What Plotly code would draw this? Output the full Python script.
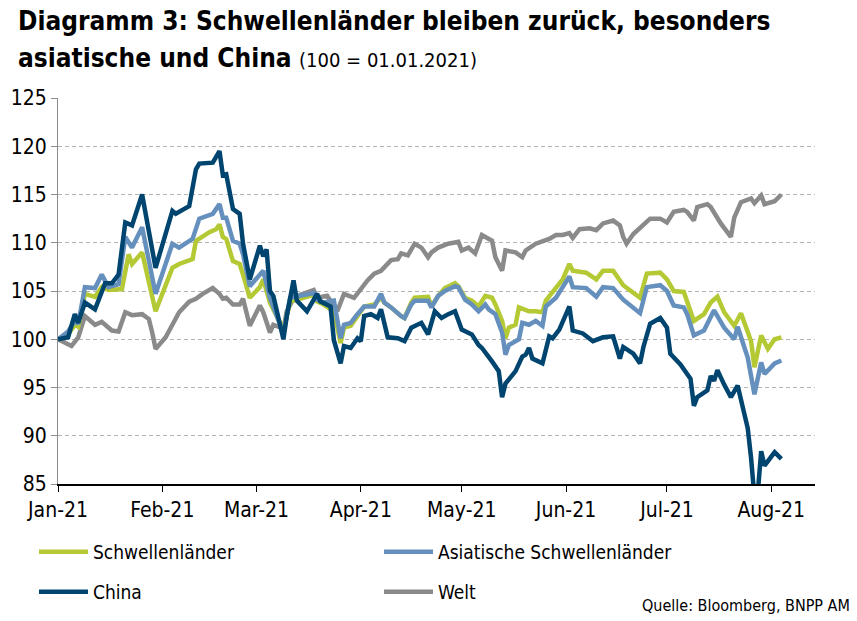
import pandas as pd
import plotly.graph_objects as go

FONT = "Liberation Sans Narrow, Arial Narrow, DejaVu Sans Condensed, sans-serif"
START = pd.Timestamp("2021-01-01")

# days since 01.01.2021 and index values (100 = 01.01.2021)
em_days = [0, 3, 5, 6, 8, 11, 13, 15, 19, 21, 22, 25, 29, 34, 36, 40, 41, 45, 47, 48,
           49, 50, 52, 54, 55, 57, 60, 61, 63, 67, 69, 72, 74, 76, 77, 79, 82, 84, 85, 87,
           89, 91, 94, 96, 97, 99, 102, 103, 105, 106, 110, 111, 113, 115, 118, 119, 121, 123, 125, 127,
           129, 130, 132, 133, 134, 136, 137, 140, 142, 144, 145, 148, 150, 152, 153, 157, 160, 162, 165, 168,
           173, 175, 179, 181, 183, 186, 187, 189, 192, 194, 196, 198, 201, 203, 206, 207, 209, 211, 213, 215]
em_vals = [100.0, 100.5, 101.5, 101.3, 104.7, 104.4, 105.4, 105.1, 105.2, 108.8, 107.8, 109.0, 102.9, 107.4, 107.8, 108.3, 110.2, 111.1, 111.4, 111.9,
           110.6, 110.4, 108.1, 107.8, 106.7, 104.3, 105.4, 106.2, 103.8, 101.0, 103.9, 104.2, 104.5, 104.6, 103.9, 103.6, 102.9, 99.6, 101.2, 101.4,
           102.4, 103.4, 103.6, 104.3, 103.8, 103.3, 102.4, 102.2, 103.8, 104.3, 104.4, 103.4, 104.5, 105.3, 105.8, 105.5, 104.3, 104.0, 103.4, 104.5,
           104.3, 103.6, 101.9, 100.1, 101.2, 101.5, 103.3, 102.9, 102.9, 102.8, 104.0, 105.4, 106.2, 107.8, 107.1, 106.9, 106.2, 107.1, 107.1, 105.6,
           104.3, 106.8, 106.9, 106.2, 105.0, 104.9, 103.8, 101.9, 102.6, 103.8, 104.4, 102.8, 101.4, 102.7, 99.8, 97.1, 100.4, 99.0, 100.0, 100.2]

asia_days = [0, 3, 5, 6, 8, 11, 13, 15, 18, 20, 22, 25, 29, 34, 36, 40, 42, 46, 48, 49,
             50, 52, 54, 55, 57, 60, 61, 63, 67, 69, 72, 74, 76, 77, 79, 82, 84, 85, 87, 89,
             91, 94, 96, 97, 99, 102, 103, 105, 106, 110, 111, 113, 115, 118, 119, 121, 123, 125, 127, 128,
             130, 132, 133, 134, 137, 138, 140, 142, 144, 145, 148, 150, 152, 153, 157, 160, 162, 165, 168, 173,
             175, 179, 181, 183, 186, 187, 189, 192, 194, 195, 198, 201, 202, 205, 207, 209, 210, 213, 215]
asia_vals = [100.0, 100.8, 101.9, 101.6, 105.4, 105.3, 106.7, 105.4, 105.7, 110.6, 109.5, 111.6, 104.7, 109.9, 109.5, 110.4, 112.5, 113.0, 114.0, 112.6,
             112.6, 110.2, 109.9, 108.8, 105.5, 106.7, 107.1, 104.3, 100.6, 104.3, 104.5, 104.7, 104.8, 104.1, 103.8, 104.0, 100.1, 101.5, 101.7, 102.6,
             103.4, 103.4, 104.7, 103.8, 103.3, 102.4, 102.2, 103.6, 104.0, 104.0, 103.3, 104.5, 105.0, 105.5, 105.4, 104.1, 103.6, 102.9, 103.6, 103.1,
             102.6, 100.7, 98.4, 99.4, 100.0, 101.7, 101.5, 101.9, 101.4, 103.4, 104.3, 105.4, 106.5, 105.4, 105.3, 104.4, 105.4, 105.3, 104.1, 102.7,
             105.4, 105.6, 105.0, 103.5, 103.3, 102.6, 100.4, 100.9, 102.3, 103.0, 101.2, 100.0, 101.3, 98.1, 94.3, 97.6, 96.4, 97.5, 97.8]

china_days = [0, 3, 5, 6, 8, 11, 14, 16, 18, 20, 22, 25, 29, 34, 35, 39, 41, 42, 46, 48,
              49, 50, 52, 54, 55, 57, 60, 61, 62, 63, 64, 67, 68, 70, 71, 74, 77, 78, 81, 82,
              84, 85, 87, 89, 90, 91, 93, 95, 96, 97, 98, 101, 103, 104, 105, 108, 110, 112, 114, 116,
              118, 120, 123, 125, 126, 129, 131, 132, 133, 136, 138, 139, 140, 141, 144, 146, 147, 149, 152, 153,
              156, 159, 162, 165, 167, 168, 171, 173, 174, 176, 179, 181, 182, 185, 188, 189, 190, 193, 194, 195,
              196, 198, 200, 202, 205, 206, 207, 208, 209, 210, 213, 215]
china_vals = [100.0, 100.2, 102.6, 101.7, 103.8, 103.1, 105.8, 105.8, 106.7, 112.1, 111.8, 115.0, 107.4, 113.3, 113.0, 113.8, 117.6, 118.2, 118.3, 119.5,
              117.0, 117.1, 113.5, 113.0, 109.9, 106.2, 109.7, 108.6, 109.3, 105.0, 104.5, 100.0, 102.4, 106.1, 104.0, 102.9, 104.7, 103.9, 103.4, 99.9,
              97.5, 99.3, 99.1, 100.1, 99.8, 102.4, 102.6, 102.2, 103.1, 101.4, 100.2, 100.1, 99.8, 100.5, 101.2, 101.7, 100.5, 102.9, 102.2, 102.6,
              102.9, 101.0, 100.5, 99.4, 99.1, 97.7, 96.7, 94.0, 95.4, 96.7, 98.2, 98.4, 99.1, 98.0, 97.5, 100.3, 100.1, 101.0, 103.4, 100.9,
              100.6, 99.8, 100.2, 100.3, 98.0, 99.2, 98.5, 97.5, 99.2, 101.6, 102.2, 101.2, 98.5, 97.4, 95.9, 93.1, 94.0, 94.7, 96.2, 95.7,
              96.8, 95.3, 94.0, 95.2, 90.8, 87.7, 83.6, 84.1, 88.4, 86.9, 88.3, 87.6]

world_days = [0, 4, 6, 8, 11, 13, 16, 18, 20, 22, 25, 27, 28, 29, 32, 34, 36, 39, 41, 43,
              46, 48, 49, 50, 52, 54, 55, 57, 60, 61, 63, 64, 66, 67, 68, 70, 72, 74, 76, 77,
              80, 83, 85, 88, 90, 92, 94, 96, 99, 101, 102, 104, 106, 108, 110, 111, 113, 116, 119, 120,
              122, 124, 126, 129, 130, 132, 133, 136, 138, 139, 142, 144, 146, 148, 150, 152, 153, 155, 158, 160,
              162, 165, 167, 168, 169, 171, 174, 176, 179, 181, 183, 186, 187, 189, 190, 193, 194, 197, 200, 201,
              203, 206, 207, 209, 210, 213, 215]
world_vals = [100.0, 99.3, 100.2, 102.4, 101.5, 101.8, 100.9, 100.8, 102.8, 102.5, 102.6, 102.1, 100.7, 99.0, 100.2, 101.6, 102.8, 103.9, 104.2, 104.7,
              105.3, 104.7, 104.2, 104.3, 103.6, 103.6, 104.2, 101.4, 103.5, 102.8, 100.7, 101.5, 101.2, 101.1, 102.9, 104.2, 104.6, 104.8, 105.1, 104.3,
              104.5, 102.9, 104.7, 104.3, 105.3, 106.1, 106.8, 107.1, 108.2, 108.3, 108.9, 108.7, 109.9, 109.5, 108.5, 109.0, 109.5, 109.9, 110.1, 109.2,
              109.5, 108.9, 110.8, 110.2, 108.5, 107.1, 109.2, 109.0, 108.5, 109.2, 109.9, 110.1, 110.4, 110.8, 110.8, 111.0, 110.5, 111.4, 111.5, 111.3,
              112.0, 112.3, 111.8, 110.6, 109.9, 110.9, 111.8, 112.5, 112.5, 112.1, 113.2, 113.4, 113.2, 112.3, 113.7, 114.0, 113.7, 112.0, 110.6, 112.6,
              114.2, 114.6, 114.1, 114.9, 114.0, 114.3, 115.0]

series = [
    # name, days, values, colour, legend, rank
    ("Welt", world_days, world_vals, "#8a8a8a", "legend2", 2),
    ("Schwellenländer", em_days, em_vals, "#b5c935", "legend", 1),
    ("Asiatische Schwellenländer", asia_days, asia_vals, "#6590bd", "legend", 2),
    ("China", china_days, china_vals, "#00456f", "legend2", 1),
]

# plot area in pixels: x 58..815, y 98..484
PLOT_L, PLOT_R, PLOT_T, PLOT_B = 58, 815, 98, 484


def to_dates(days):
    return START + pd.to_timedelta(days, unit="D")


def px_x(x):
    return (x - PLOT_L) / (PLOT_R - PLOT_L)


def px_y(y):
    return (PLOT_B - y) / (PLOT_B - PLOT_T)


fig = go.Figure()
for name, days, vals, color, leg, rank in series:
    fig.add_trace(go.Scatter(
        x=to_dates(days), y=vals, name=name, mode="lines",
        line=dict(color=color, width=4.5), legend=leg, legendrank=rank,
    ))

legend_style = dict(
    orientation="h", xanchor="left", yanchor="middle", x=px_x(34),
    font=dict(family=FONT, size=19, color="#000000"),
    entrywidth=281, entrywidthmode="pixels", itemwidth=49,
    bgcolor="rgba(0,0,0,0)", traceorder="normal",
)

fig.update_layout(
    width=857, height=621,
    margin=dict(l=PLOT_L, r=857 - PLOT_R, t=PLOT_T, b=621 - PLOT_B, autoexpand=False),
    paper_bgcolor="white", plot_bgcolor="white",
    font=dict(family=FONT, size=21, color="#000000"),
    legend=dict(y=px_y(552), **legend_style),
    legend2=dict(y=px_y(592), **legend_style),
    annotations=[
        dict(text="<b>Diagramm 3: Schwellenländer bleiben zurück, besonders</b>",
             xref="paper", yref="paper", x=px_x(16), y=px_y(21),
             xanchor="left", yanchor="middle", showarrow=False,
             font=dict(family=FONT, size=26, color="#000000")),
        dict(text="<b>asiatische und China</b> <span style='font-size:20px'>(100 = 01.01.2021)</span>",
             xref="paper", yref="paper", x=px_x(16), y=px_y(58),
             xanchor="left", yanchor="middle", showarrow=False,
             font=dict(family=FONT, size=26, color="#000000")),
        dict(text="Quelle: Bloomberg, BNPP AM", xref="paper", yref="paper",
             x=px_x(852), y=px_y(605), xanchor="right", yanchor="middle",
             showarrow=False, font=dict(family=FONT, size=16, color="#000000")),
    ],
)

fig.update_xaxes(
    type="date", range=["2021-01-01", "2021-08-14"],
    dtick="M1", tick0="2021-01-01", tickformat="%b-%y",
    showgrid=False, showline=True, linecolor="#000000", linewidth=1.5,
    ticks="outside", ticklen=6, tickcolor="#000000", automargin=False,
    tickfont=dict(family=FONT, size=21, color="#000000"),
)
fig.update_yaxes(
    range=[85, 125], dtick=5, showgrid=True, gridcolor="#b4b4b4", gridwidth=1,
    griddash="4px,3px", showline=True, linecolor="#8c8c8c", linewidth=1,
    ticks="outside", ticklen=6, tickcolor="#8c8c8c", zeroline=False, automargin=False,
    tickfont=dict(family=FONT, size=21, color="#000000"),
)

# the page body has a default 8px margin; drop it so the figure fills the window
fig.write_html("out.html", config={"displayModeBar": False},
               post_script="document.body.style.margin = '0px';")
